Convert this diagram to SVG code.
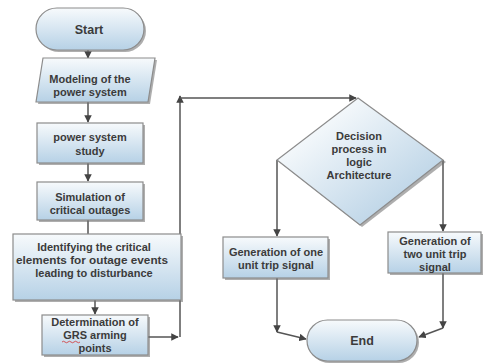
<svg xmlns="http://www.w3.org/2000/svg" width="486" height="363" viewBox="0 0 486 363">
<style>
.bx{fill:url(#g);stroke:#8c8c8c;stroke-width:1.2}
.sh{fill:#6b6b6b;opacity:0.55}
.t{font-family:"Liberation Sans",Arial,sans-serif;font-weight:bold;font-size:11px;fill:#3b3b3b;text-anchor:middle}
.tb{font-size:12.5px}
.c{fill:none;stroke:#555;stroke-width:1.5}
</style>
<defs>
<linearGradient id="g" x1="0" y1="0" x2="0" y2="1">
<stop offset="0" stop-color="#f7fafc"/>
<stop offset="1" stop-color="#b6d1e6"/>
</linearGradient>
<linearGradient id="gd" x1="0" y1="0" x2="1" y2="1">
<stop offset="0.2" stop-color="#f7fafc"/>
<stop offset="1" stop-color="#a9c8e0"/>
</linearGradient>
<marker id="a" viewBox="0 0 10 10" refX="9" refY="5" markerWidth="5" markerHeight="5" orient="auto">
<path d="M0,0 L10,5 L0,10 z" fill="#444"/>
</marker>
</defs>

<g id="connectors">
<line class="c" x1="88" y1="50" x2="88" y2="58" marker-end="url(#a)"/>
<line class="c" x1="88" y1="102" x2="88" y2="122" marker-end="url(#a)"/>
<line class="c" x1="88" y1="163" x2="88" y2="181" marker-end="url(#a)"/>
<line class="c" x1="88" y1="220" x2="88" y2="234"/>
<line class="c" x1="95" y1="300" x2="95" y2="314" marker-end="url(#a)"/>
<line class="c" x1="148" y1="337" x2="178" y2="337" marker-end="url(#a)"/>
<line class="c" x1="180" y1="337" x2="180" y2="96" marker-end="url(#a)"/>
<polyline class="c" points="180,98 356,98" marker-end="url(#a)"/>
<polyline class="c" points="277,160 277,236" marker-end="url(#a)"/>
<polyline class="c" points="443,160 443,231" marker-end="url(#a)"/>
<polyline class="c" points="277,278 277,332" marker-end="url(#a)"/>
<line class="c" x1="277" y1="332" x2="306" y2="339" marker-end="url(#a)"/>
<polyline class="c" points="443,273 443,328" marker-end="url(#a)"/>
<line class="c" x1="443" y1="328" x2="419" y2="337" marker-end="url(#a)"/>
</g>

<g id="start">
<rect class="sh" x="38" y="10" width="108" height="42" rx="21"/>
<rect class="bx" x="36" y="8" width="108" height="42" rx="21"/>
<text class="t tb" x="89" y="34">Start</text>
</g>

<g id="modeling">
<polygon class="sh" points="45,60 157,60 150,104 38,104"/>
<polygon class="bx" points="43,58 155,58 148,102 36,102"/>
<text class="t" x="90" y="83">Modeling of the</text>
<text class="t" x="90" y="96">power system</text>
</g>

<g id="study">
<rect class="sh" x="39" y="125" width="106" height="40"/>
<rect class="bx" x="37" y="123" width="106" height="40"/>
<text class="t" x="90" y="141">power system</text>
<text class="t" x="90" y="155">study</text>
</g>

<g id="simulation">
<rect class="sh" x="39" y="184" width="106" height="38"/>
<rect class="bx" x="37" y="182" width="106" height="38"/>
<text class="t" x="90" y="201">Simulation of</text>
<text class="t" x="90" y="214">critical outages</text>
</g>

<g id="identifying">
<rect class="sh" x="15" y="236" width="168" height="66"/>
<rect class="bx" x="13" y="234" width="168" height="66"/>
<text class="t" x="94" y="251">Identifying the critical</text>
<text class="t" x="92" y="264" textLength="152" lengthAdjust="spacingAndGlyphs">elements for outage events</text>
<text class="t" x="94" y="277">leading to disturbance</text>
</g>

<g id="determination">
<rect class="sh" x="44" y="317" width="106" height="40"/>
<rect class="bx" x="42" y="315" width="106" height="40"/>
<text class="t" x="95" y="326">Determination of</text>
<text class="t" x="95" y="339">GRS arming</text>
<path d="M62,342 q1.5,-1.5 3,0 t3,0 t3,0 t3,0 t3,0 t3,0" fill="none" stroke="#d23030" stroke-width="0.8"/>
<text class="t" x="95" y="352">points</text>
</g>

<g id="decision">
<polygon class="sh" points="360,100 446,162 362,227 279,162"/>
<polygon fill="url(#gd)" stroke="#8c8c8c" stroke-width="1.2" points="358,98 443,160 360,225 277,160"/>
<text class="t" x="359" y="140">Decision</text>
<text class="t" x="359" y="153">process in</text>
<text class="t" x="359" y="166">logic</text>
<text class="t" x="359" y="179">Architecture</text>
</g>

<g id="one-unit">
<rect class="sh" x="225" y="239" width="105" height="41"/>
<rect class="bx" x="223" y="237" width="105" height="41"/>
<text class="t" x="276" y="256">Generation of one</text>
<text class="t" x="276" y="269">unit trip signal</text>
</g>

<g id="two-unit">
<rect class="sh" x="390" y="234" width="93" height="41"/>
<rect class="bx" x="388" y="232" width="93" height="41"/>
<text class="t" x="435" y="245">Generation of</text>
<text class="t" x="435" y="258">two unit trip</text>
<text class="t" x="435" y="271">signal</text>
</g>

<g id="end">
<rect class="sh" x="309" y="322" width="110" height="41" rx="20.5"/>
<rect class="bx" x="307" y="320" width="110" height="41" rx="20.5"/>
<text class="t tb" x="362" y="345">End</text>
</g>
</svg>
